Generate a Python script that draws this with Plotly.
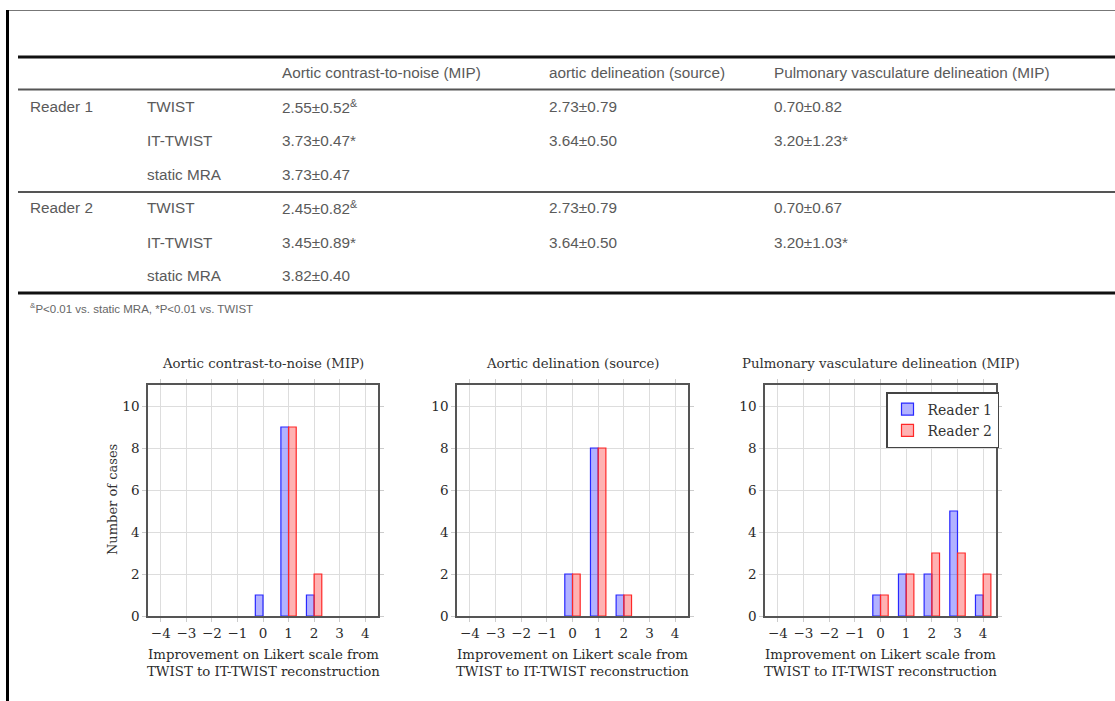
import plotly.graph_objects as go

W, H = 1115, 701

# ---------------- data ----------------
table_header = ["Aortic contrast-to-noise (MIP)", "aortic delineation (source)",
                "Pulmonary vasculature delineation (MIP)"]
readers = ["Reader 1", "Reader 2"]
methods = ["TWIST", "IT-TWIST", "static MRA"]
reader1_cnr = ["2.55±0.52<sup>&</sup>", "3.73±0.47*", "3.73±0.47"]
reader1_aortic = ["2.73±0.79", "3.64±0.50", ""]
reader1_pulm = ["0.70±0.82", "3.20±1.23*", ""]
reader2_cnr = ["2.45±0.82<sup>&</sup>", "3.45±0.89*", "3.82±0.40"]
reader2_aortic = ["2.73±0.79", "3.64±0.50", ""]
reader2_pulm = ["0.70±0.67", "3.20±1.03*", ""]
footnote = "<sup>&</sup>P<0.01 vs. static MRA, *P<0.01 vs. TWIST"

improvement = [-4, -3, -2, -1, 0, 1, 2, 3, 4]
improvement_labels = ["−4", "−3", "−2", "−1", "0", "1", "2", "3", "4"]
chart_titles = ["Aortic contrast-to-noise (MIP)", "Aortic delination (source)",
                "Pulmonary vasculature delineation (MIP)"]
cnr_reader1 = [0, 0, 0, 0, 1, 9, 1, 0, 0]
cnr_reader2 = [0, 0, 0, 0, 0, 9, 2, 0, 0]
aortic_reader1 = [0, 0, 0, 0, 2, 8, 1, 0, 0]
aortic_reader2 = [0, 0, 0, 0, 2, 8, 1, 0, 0]
pulm_reader1 = [0, 0, 0, 0, 1, 2, 2, 5, 1]
pulm_reader2 = [0, 0, 0, 0, 1, 2, 3, 3, 2]
y_ticks = [0, 2, 4, 6, 8, 10]
x_label = "Improvement on Likert scale from<br>TWIST to IT-TWIST reconstruction"
y_label = "Number of cases"

# ---------------- helpers ----------------
def px(x):
    return x / W

def py(y):
    return 1 - y / H

fig = go.Figure()
shapes = []
annotations = []

TFONT = dict(family="Liberation Sans", size=15.3, color="#5a5a5a")

# outer frame
shapes.append(dict(type="line", xref="paper", yref="paper", x0=px(7), x1=px(W), y0=py(10.5), y1=py(10.5),
                   line=dict(color="#777777", width=1)))
shapes.append(dict(type="line", xref="paper", yref="paper", x0=px(7.5), x1=px(7.5), y0=py(10), y1=py(H),
                   line=dict(color="#000000", width=3)))

# table rules
for yy, wdt, col in [(57, 3, "#111111"), (89.5, 2, "#555555"), (192, 2, "#555555"), (293, 3, "#111111")]:
    shapes.append(dict(type="line", xref="paper", yref="paper", x0=px(18), x1=px(W), y0=py(yy), y1=py(yy),
                       line=dict(color=col, width=wdt)))

def txt(x, y, s, font=TFONT, xanchor="left"):
    annotations.append(dict(xref="paper", yref="paper", x=px(x), y=py(y), text=s, showarrow=False,
                            xanchor=xanchor, yanchor="middle", font=font))

col_x = [280, 547, 772]
for i, h in enumerate(table_header):
    txt(col_x[i], 73, h)

row_y = [[107, 141, 174], [208, 242, 276]]
data_cols = [[reader1_cnr, reader1_aortic, reader1_pulm], [reader2_cnr, reader2_aortic, reader2_pulm]]
for r in range(2):
    txt(28, row_y[r][0], readers[r])
    for m in range(3):
        txt(145, row_y[r][m], methods[m])
        for c in range(3):
            v = data_cols[r][c][m]
            if v:
                txt(col_x[c], row_y[r][m], v)

txt(28, 308, footnote, font=dict(family="Liberation Sans", size=11.5, color="#666666"))

# ---------------- charts ----------------
plot_x = [(148, 378), (457, 688), (765, 996)]
plot_y = (385, 616)
series = [(cnr_reader1, cnr_reader2), (aortic_reader1, aortic_reader2), (pulm_reader1, pulm_reader2)]
SERIF = "DejaVu Serif"

for k in range(3):
    xa = "x" if k == 0 else f"x{k+1}"
    ya = "y" if k == 0 else f"y{k+1}"
    for j, (vals, name, fill, edge) in enumerate([
            (series[k][0], "Reader 1", "rgba(0,0,255,0.3)", "rgb(40,40,255)"),
            (series[k][1], "Reader 2", "rgba(255,0,0,0.3)", "rgb(255,40,40)")]):
        xs = [improvement[i] for i in range(len(vals)) if vals[i] > 0]
        ys = [vals[i] for i in range(len(vals)) if vals[i] > 0]
        fig.add_trace(go.Bar(x=xs, y=ys, name=name, xaxis=xa, yaxis=ya,
                             offset=-0.3 + 0.3 * j, width=0.3,
                             marker=dict(color=fill, line=dict(color=edge, width=1.2)),
                             showlegend=(k == 2)))
    axis_common = dict(showline=True, linecolor="#555555", linewidth=1.5, mirror="allticks",
                       showgrid=True, gridcolor="#dddddd", gridwidth=1, zeroline=False,
                       ticks="outside", ticklen=4, tickcolor="#cccccc", tickwidth=1,
                       automargin=False,
                       tickfont=dict(family=SERIF, size=13.5, color="#2a2a2a"))
    x0, x1 = plot_x[k]
    fig.update_layout(**{
        ("xaxis" if k == 0 else f"xaxis{k+1}"): dict(
            domain=[px(x0), px(x1)], anchor=ya, range=[-4.5, 4.5],
            tickvals=improvement, ticktext=improvement_labels, **axis_common),
        ("yaxis" if k == 0 else f"yaxis{k+1}"): dict(
            domain=[py(plot_y[1]), py(plot_y[0])], anchor=xa, range=[0, 11],
            tickvals=y_ticks, **axis_common),
    })
    cx = (x0 + x1) / 2
    txt(cx, 363, chart_titles[k], font=dict(family=SERIF, size=13.3, color="#333333"), xanchor="center")
    txt(cx, 663, x_label, font=dict(family=SERIF, size=13.3, color="#2a2a2a"), xanchor="center")

annotations.append(dict(xref="paper", yref="paper", x=px(112), y=py(500), text=y_label, showarrow=False,
                        textangle=-90, xanchor="center", yanchor="middle",
                        font=dict(family=SERIF, size=13, color="#333333")))

fig.update_layout(
    width=W, height=H, margin=dict(l=0, r=0, t=0, b=0, autoexpand=False),
    paper_bgcolor="white", plot_bgcolor="white",
    barmode="overlay", shapes=shapes, annotations=annotations,
    legend=dict(x=px(999), y=py(392), xanchor="right", yanchor="top",
                bgcolor="white", bordercolor="#444444", borderwidth=1.5,
                font=dict(family=SERIF, size=14, color="#333333"),
                itemwidth=30, tracegroupgap=0),
)

fig.write_html("out.html", config={"displayModeBar": False},
               post_script="document.body.style.margin='0';document.body.style.overflow='hidden';")
